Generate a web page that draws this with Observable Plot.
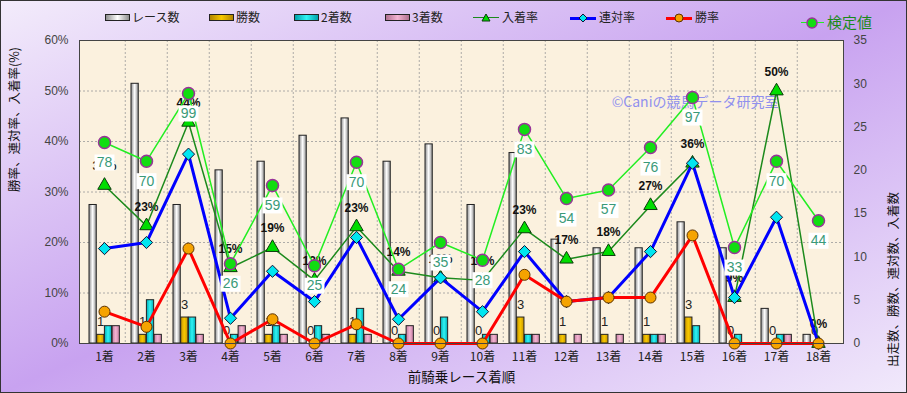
<!DOCTYPE html>
<html><head><meta charset="utf-8">
<script src="https://cdn.jsdelivr.net/npm/d3@7"></script>
<script src="https://cdn.jsdelivr.net/npm/@observablehq/plot@0.6"></script>
<style>
html,body{margin:0;padding:0;}
#wrap{position:relative;width:907px;height:393px;overflow:hidden;
 background:linear-gradient(to bottom right,#f3ecfb 0%,#c8a2f0 50%,#f1e9fb 100%);
 box-shadow:inset 0 0 0 1px #333;font-family:"Noto Sans CJK JP",sans-serif;}
#wrap svg{position:absolute;left:0;top:0;}
.lg{position:absolute;font-size:12px;color:#222;line-height:14px;white-space:nowrap;}
.sw{position:absolute;width:23px;height:5px;border:1.5px solid #222;}
.ln{position:absolute;width:26px;height:0;}
.mk{position:absolute;}
</style></head>
<body><div id="wrap"></div>
<script>
// ---- data ----
const cats = ["1着","2着","3着","4着","5着","6着","7着","8着","9着","10着","11着","12着","13着","14着","15着","16着","17着","18着"];
const races   = [16,30,16,20,21,24,26,21,23,16,22,12,11,11,14,11,4,1];
const wins    = [1,1,3,0,1,0,1,0,0,0,3,1,1,1,3,0,0,0];
const seconds = [2,5,3,1,2,2,4,1,3,1,1,0,0,1,2,1,1,0];
const thirds  = [2,1,1,2,1,1,1,2,0,1,1,1,1,1,0,0,1,0];
const placeRate = [31.3,23.3,43.8,15.0,19.0,12.5,23.1,14.3,13.0,12.5,22.7,16.7,18.2,27.3,35.7,9.1,50.0,0];
const placeLabels = ["31%","23%","44%","15%","19%","13%","23%","14%","13%","13%","23%","17%","18%","27%","36%","9%","50%","0%"];
const top2Rate  = [18.8,20.0,37.5,5.0,14.3,8.3,21.0,4.8,13.0,6.3,18.2,8.3,9.1,18.2,35.7,9.1,25.0,0];
const winRate   = [6.3,3.3,18.8,0,4.8,0,3.8,0,0,0,13.6,8.3,9.1,9.1,21.4,0,0,0];
const testPos   = [39.8,36.1,49.5,15.8,31.3,15.4,35.9,14.7,20.0,16.5,42.4,28.7,30.4,38.8,48.7,19.0,36.1,24.3];
const testVals  = [78,70,99,26,59,25,70,24,35,28,83,54,57,76,97,33,70,44];
const leftTicks = [0,10,20,30,40,50,60];
const rightTicks = [0,5,10,15,20,25,30,35];

const K = 60/35; // right-axis count -> left-axis percent
const rows = cats.map((c,i)=>({cat:c,races:races[i],wins:wins[i],seconds:seconds[i],thirds:thirds[i],
  place:placeRate[i],placeLabel:placeLabels[i],top2:top2Rate[i],win:winRate[i],test:testPos[i],testVal:testVals[i]}));

const W=907,H=393,ML=79,MR=64,MT=40,MB=50;
const bw=(W-ML-MR)/cats.length;
const off=6, bwid=7.7;
const ins=i=>({insetLeft:off+bwid*i, insetRight:bw-off-bwid*(i+1)});
const boxSym={draw(ctx,size){ctx.rect(-10,-8,20,16);}};
const JP='"Noto Sans CJK JP",sans-serif', EN='"Liberation Sans",Arial,sans-serif';

const svg = Plot.plot({
  width:W,height:H,marginLeft:ML,marginRight:MR,marginTop:MT,marginBottom:MB,
  style:{background:"transparent",fontFamily:EN,overflow:"visible"},
  x:{domain:cats,padding:0,axis:null},
  y:{domain:[0,60],axis:null},
  marks:[
    Plot.frame({fill:"#fbf1de",stroke:"none"}),
    Plot.ruleY([10,20,30,40,50],{stroke:"#9a9a9a",strokeDasharray:"2,2",strokeWidth:0.8}),
    Plot.ruleX(cats.slice(1),{dx:-bw/2,stroke:"#9a9a9a",strokeDasharray:"2,2",strokeWidth:0.8}),
    Plot.text(["©Caniの競馬データ研究室"],{frameAnchor:"top-right",dx:-65,dy:57,textAnchor:"end",fill:"#9090ee",fontSize:14,fontFamily:JP}),
    Plot.barY(rows,{x:"cat",y:d=>d.races*K,...ins(0),fill:"url(#gRace)",stroke:"#222",strokeWidth:1}),
    Plot.barY(rows,{x:"cat",y:d=>d.wins*K,...ins(1),fill:"url(#gWin)",stroke:"#222",strokeWidth:1}),
    Plot.barY(rows,{x:"cat",y:d=>d.seconds*K,...ins(2),fill:"url(#gSec)",stroke:"#222",strokeWidth:1}),
    Plot.barY(rows,{x:"cat",y:d=>d.thirds*K,...ins(3),fill:"url(#gThr)",stroke:"#222",strokeWidth:1}),
    Plot.text(rows,{x:"cat",y:d=>d.wins*K,text:d=>String(d.wins),dx:-4,dy:-13,fontSize:13,fill:"#222"}),
    Plot.text(rows,{x:"cat",y:"place",text:"placeLabel",dy:-19,fontSize:12,fill:"#111",fontWeight:"bold"}),
    Plot.line(rows,{x:"cat",y:"place",stroke:"#1c8a1c",strokeWidth:1.5}),
    Plot.dot(rows,{x:"cat",y:"place",symbol:"triangle",r:5,fill:"#00dd00",stroke:"#0c3a0c",strokeWidth:1}),
    Plot.line(rows,{x:"cat",y:"top2",stroke:"#0000ff",strokeWidth:3}),
    Plot.dot(rows,{x:"cat",y:"top2",symbol:"diamond2",r:5.5,fill:"#00e6f0",stroke:"#113",strokeWidth:1}),
    Plot.line(rows,{x:"cat",y:"win",stroke:"#ff0000",strokeWidth:3}),
    Plot.dot(rows,{x:"cat",y:"win",r:5.5,fill:"#f5a300",stroke:"#5a3000",strokeWidth:1}),
    Plot.line(rows,{x:"cat",y:"test",stroke:"#22ee22",strokeWidth:1.5}),
    Plot.dot(rows,{x:"cat",y:"test",dy:20,symbol:boxSym,fill:"#ffffff",stroke:"none"}),
    Plot.text(rows,{x:"cat",y:"test",dy:20,text:d=>String(d.testVal),fontSize:14,fill:"#3a9a78"}),
    Plot.dot(rows,{x:"cat",y:"test",r:6,fill:"#11dd11",stroke:"#993399",strokeWidth:1.5}),
    Plot.frame({stroke:"#444",strokeWidth:1}),
    Plot.axisY(leftTicks,{anchor:"left",tickSize:0,tickPadding:11,tickFormat:d=>d+"%",fontSize:12,fill:"#444",label:null}),
    Plot.axisY(rightTicks.map(v=>v*K),{anchor:"right",tickSize:0,tickPadding:10,tickFormat:d=>String(Math.round(d/K)),fontSize:12,fill:"#444",label:null}),
    Plot.axisX({tickSize:0,tickPadding:9,fontSize:12,fill:"#222",fontFamily:JP,label:null}),
    Plot.text(["勝率、連対率、入着率(%)"],{frameAnchor:"left",dx:-65,rotate:-90,fontSize:12.5,fill:"#111",fontFamily:JP}),
    Plot.text(["出走数、勝数、連対数、入着数"],{frameAnchor:"right",dx:50,rotate:-90,fontSize:12.5,fill:"#111",fontFamily:JP}),
    Plot.text(["前騎乗レース着順"],{frameAnchor:"bottom",dy:38,fontSize:13.5,fill:"#111",fontFamily:JP})
  ]
});

// gradient definitions for bars
const defs = d3.select(svg).insert("defs",":first-child");
function grad(id,edge,mid){
  const g=defs.append("linearGradient").attr("id",id).attr("x1","0").attr("x2","1").attr("y1","0").attr("y2","0");
  g.append("stop").attr("offset","0").attr("stop-color",edge);
  g.append("stop").attr("offset","0.5").attr("stop-color",mid);
  g.append("stop").attr("offset","1").attr("stop-color",edge);
}
grad("gRace","#8e8e8e","#ffffff");
grad("gWin","#c99500","#f7c800");
grad("gSec","#00aab4","#30f4f4");
grad("gThr","#c57ea2","#f4b4d2");

const wrap=document.getElementById("wrap");
wrap.appendChild(svg);

// legend
const legendItems=[
  {type:"sw",x:105,label:"レース数",bg:"linear-gradient(to right,#8e8e8e,#fff,#8e8e8e)"},
  {type:"sw",x:209,label:"勝数",bg:"linear-gradient(to right,#b38600,#f7c800,#b38600)"},
  {type:"sw",x:294,label:"2着数",bg:"linear-gradient(to right,#00a0aa,#30f4f4,#00a0aa)"},
  {type:"sw",x:385,label:"3着数",bg:"linear-gradient(to right,#b07090,#f4b4d2,#b07090)"},
  {type:"ln",x:473,label:"入着率",color:"#1c8a1c",w:1.5,mk:"tri"},
  {type:"ln",x:570,label:"連対率",color:"#0000ff",w:3,mk:"dia"},
  {type:"ln",x:666,label:"勝率",color:"#ff0000",w:3,mk:"cir"}
];
const ly=18;
for(const it of legendItems){
  if(it.type==="sw"){
    const s=document.createElement("div");s.className="sw";
    s.style.left=it.x+"px";s.style.top=(ly-4)+"px";s.style.background=it.bg;wrap.appendChild(s);
  } else {
    const l=document.createElement("div");l.className="ln";
    l.style.left=it.x+"px";l.style.top=(ly-it.w/2)+"px";l.style.borderTop=it.w+"px solid "+it.color;wrap.appendChild(l);
    const m=document.createElementNS("http://www.w3.org/2000/svg","svg");
    m.setAttribute("width","10");m.setAttribute("height","10");m.setAttribute("class","mk");
    m.style.left=(it.x+8)+"px";m.style.top=(ly-5)+"px";
    if(it.mk==="tri") m.innerHTML='<polygon points="5,1 9,8 1,8" fill="#00dd00" stroke="#0c3a0c" stroke-width="1"/>';
    if(it.mk==="dia") m.innerHTML='<polygon points="5,1 9,5 5,9 1,5" fill="#00e6f0" stroke="#113" stroke-width="1"/>';
    if(it.mk==="cir") m.innerHTML='<circle cx="5" cy="5" r="4" fill="#f5a300" stroke="#5a3000" stroke-width="1"/>';
    wrap.appendChild(m);
  }
  const t=document.createElement("div");t.className="lg";t.textContent=it.label;
  t.style.left=(it.x+(it.type==="sw"?27:29))+"px";t.style.top=(ly-8)+"px";wrap.appendChild(t);
}
// 検定値 legend
{
  const l=document.createElement("div");l.className="ln";
  l.style.left="801px";l.style.top="22px";l.style.width="23px";l.style.borderTop="1.5px solid #22ee22";wrap.appendChild(l);
  const m=document.createElementNS("http://www.w3.org/2000/svg","svg");
  m.setAttribute("width","14");m.setAttribute("height","14");m.setAttribute("class","mk");
  m.style.left="805px";m.style.top="16px";
  m.innerHTML='<circle cx="7" cy="7" r="5" fill="#11dd11" stroke="#993399" stroke-width="1.5"/>';
  wrap.appendChild(m);
  const t=document.createElement("div");t.className="lg";t.textContent="検定値";
  t.style.left="827px";t.style.top="13px";t.style.fontSize="15px";t.style.lineHeight="18px";t.style.color="#1a8a1a";
  wrap.appendChild(t);
}
</script></body></html>
